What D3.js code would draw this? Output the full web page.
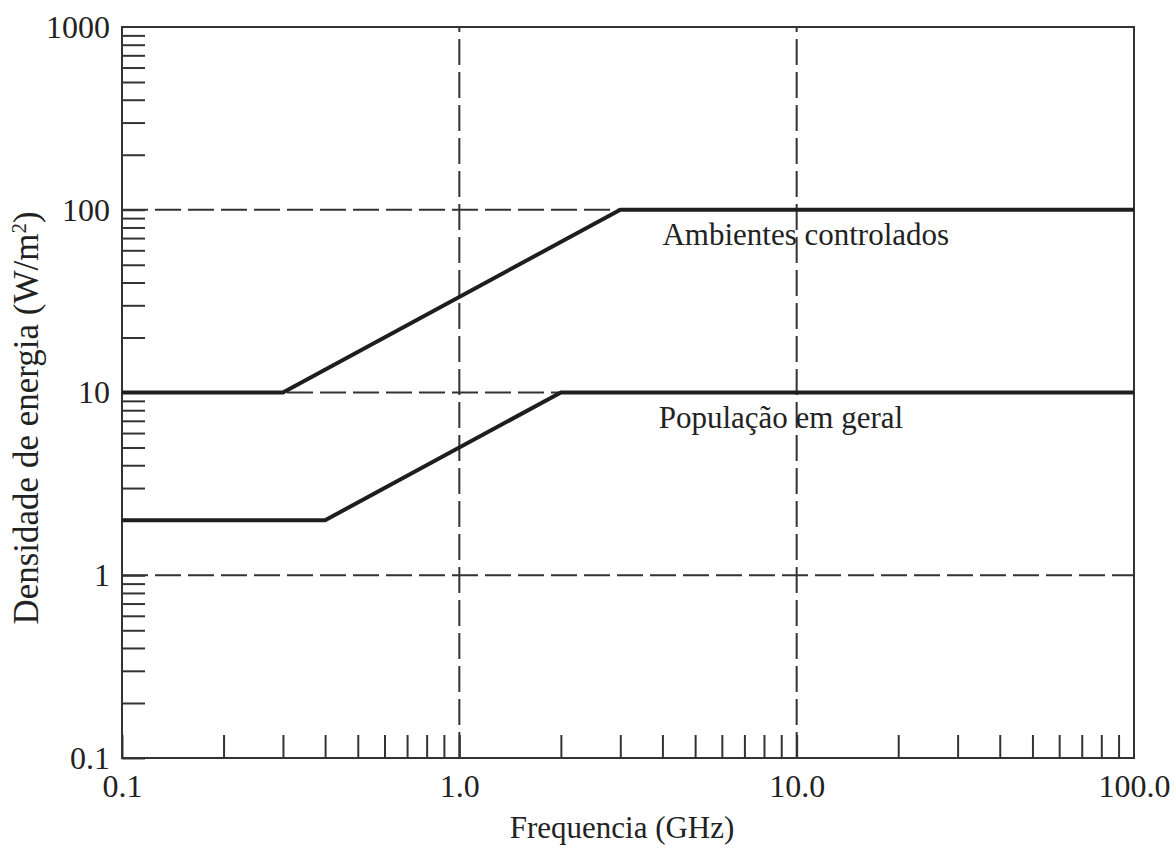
<!DOCTYPE html>
<html>
<head>
<meta charset="utf-8">
<script src="https://cdn.jsdelivr.net/npm/d3@7"></script>
<style>
  body { margin: 0; background: #fff; }
  svg text { font-family: "Liberation Serif", "Times New Roman", serif; fill: #222; }
</style>
</head>
<body>
<div id="chart"></div>
<script>
// data
var controlledFreq = [0.1, 0.3, 3, 100];
var controlledDens = [10, 10, 100, 100];
var generalFreq = [0.1, 0.4, 2, 100];
var generalDens = [2, 2, 10, 10];

var seriesNames = ["Ambientes controlados", "População em geral"];
var labelFreq = [4.0, 3.9];
var labelDens = [100, 10];

var xTickVals = [0.1, 1, 10, 100];
var xTickLabels = ["0.1", "1.0", "10.0", "100.0"];
var yTickVals = [0.1, 1, 10, 100, 1000];
var yTickLabels = ["0.1", "1", "10", "100", "1000"];
var xGrid = [1, 10];
var yGrid = [1, 10, 100];

var width = 1174, height = 848;
var margin = {top: 27, right: 40, bottom: 90, left: 122};

var svg = d3.select("#chart").append("svg")
	.attr("width", width)
	.attr("height", height);

var x = d3.scaleLog().domain([0.1, 100]).range([margin.left, width - margin.right]);
var y = d3.scaleLog().domain([0.1, 1000]).range([height - margin.bottom, margin.top]);

// minor ticks 1..9 in each decade
var minorX = [], minorY = [];
[0.1, 1, 10].forEach(d => { for (var m = 1; m < 10; m++) minorX.push(d * m); });
[0.1, 1, 10, 100].forEach(d => { for (var m = 1; m < 10; m++) minorY.push(d * m); });

var tickLen = 23;

// grid
var grid = svg.append("g")
	.attr("stroke", "#333")
	.attr("stroke-width", 2)
	.attr("stroke-dasharray", "26,7");
grid.selectAll(".hg").data(yGrid).enter().append("line")
	.attr("x1", x.range()[0]).attr("x2", x.range()[1])
	.attr("y1", d => y(d)).attr("y2", d => y(d));
grid.selectAll(".vg").data(xGrid).enter().append("line")
	.attr("y1", y.range()[0]).attr("y2", y.range()[1])
	.attr("x1", d => x(d)).attr("x2", d => x(d));

// ticks inside the frame
var xMinorAxis = svg.append("g")
	.attr("transform", "translate(0," + y.range()[0] + ")")
	.call(d3.axisBottom(x).tickValues(minorX).tickSize(-tickLen).tickFormat(""));
var yMinorAxis = svg.append("g")
	.attr("transform", "translate(" + x.range()[0] + ",0)")
	.call(d3.axisLeft(y).tickValues(minorY).tickSize(-tickLen).tickFormat(""));
[xMinorAxis, yMinorAxis].forEach(a => {
	a.select(".domain").remove();
	a.selectAll(".tick line").attr("stroke", "#333").attr("stroke-width", 2);
});

// labels
var xLabelAxis = svg.append("g")
	.attr("transform", "translate(0," + y.range()[0] + ")")
	.call(d3.axisBottom(x).tickValues(xTickVals).tickSize(0).tickPadding(16)
		.tickFormat((d, i) => xTickLabels[i]));
var yLabelAxis = svg.append("g")
	.attr("transform", "translate(" + x.range()[0] + ",0)")
	.call(d3.axisLeft(y).tickValues(yTickVals).tickSize(0).tickPadding(12)
		.tickFormat((d, i) => yTickLabels[i]));
[xLabelAxis, yLabelAxis].forEach(a => {
	a.select(".domain").remove();
	a.selectAll("text").attr("font-family", null).attr("font-size", 32).attr("fill", "#222");
});

// frame
svg.append("rect")
	.attr("x", x.range()[0]).attr("y", y.range()[1])
	.attr("width", x.range()[1] - x.range()[0])
	.attr("height", y.range()[0] - y.range()[1])
	.attr("fill", "none")
	.attr("stroke", "#333")
	.attr("stroke-width", 2);

// limit curves
var line = d3.line().x(d => x(d[0])).y(d => y(d[1]));
var series = [d3.zip(controlledFreq, controlledDens), d3.zip(generalFreq, generalDens)];
svg.selectAll(".curve").data(series).enter().append("path")
	.attr("class", "curve")
	.attr("d", line)
	.attr("fill", "none")
	.attr("stroke", "#1e1e1e")
	.attr("stroke-width", 4)
	.attr("stroke-linejoin", "miter");

svg.selectAll(".lbl").data(seriesNames).enter().append("text")
	.attr("class", "lbl")
	.attr("x", (d, i) => x(labelFreq[i]))
	.attr("y", (d, i) => y(labelDens[i]) + 35)
	.attr("font-size", 31)
	.text(d => d);

// axis titles
svg.append("text")
	.attr("x", (x.range()[0] + x.range()[1]) / 2 - 6)
	.attr("y", 838)
	.attr("text-anchor", "middle")
	.attr("font-size", 31)
	.text("Frequencia (GHz)");

var yt = svg.append("text")
	.attr("transform", "translate(38," + 418 + ") rotate(-90)")
	.attr("text-anchor", "middle")
	.attr("font-size", 35);
yt.append("tspan").text("Densidade de energia (W/m");
yt.append("tspan").attr("baseline-shift", "super").attr("font-size", 21).text("2");
yt.append("tspan").text(")");
</script>
</body>
</html>
